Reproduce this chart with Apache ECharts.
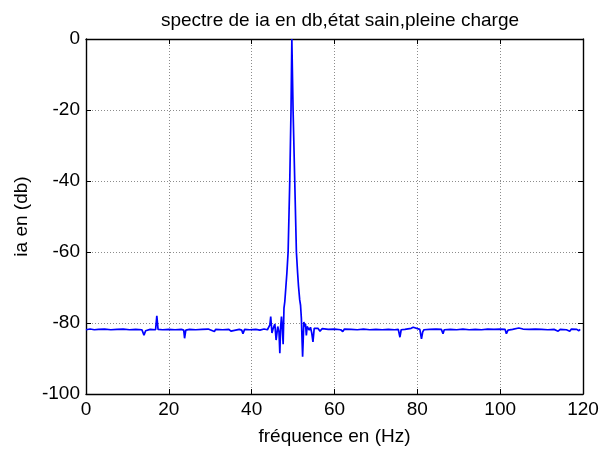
<!DOCTYPE html>
<html>
<head>
<meta charset="utf-8">
<script src="https://cdn.jsdelivr.net/npm/echarts@6/dist/echarts.min.js"></script>
<style>
  html, body { margin: 0; padding: 0; background: #fff; }
  #chart { width: 611px; height: 452px; }
</style>
</head>
<body>
<div id="chart"></div>
<script>
// Spectrum of phase current ia (dB), healthy machine at full load
const freqHz = [
  0, 1, 2, 3, 4.5, 6, 7.5, 9, 10.5, 12, 13.5, 14.0, 14.4, 15.5, 16.8, 17.1, 17.4, 18.5,
  20, 21.5, 23, 23.6, 23.8, 24.1, 25, 26.5, 28, 29.5, 31, 31.3, 33, 34.5, 35, 35.3,
  37, 37.6, 37.9, 38.3, 39.5, 41, 42, 43, 43.8, 44.4, 44.6, 44.9, 45.2, 45.6, 45.9,
  46.3, 46.6, 46.8, 47.0, 47.2, 47.4, 47.6, 47.8, 48.0, 48.25, 48.5, 48.8, 49.0, 49.2,
  49.5, 49.7, 50.0, 50.4, 50.8, 51.1, 51.3, 51.6, 51.8, 52.0, 52.3, 52.6, 52.8, 53.0,
  53.2, 53.4, 53.6, 53.9, 54.2, 54.5, 54.8, 55.1, 55.5, 56, 56.5, 57, 58.5, 60, 61.5,
  62, 62.4, 64, 65.5, 67, 68.5, 70, 71.5, 73, 74.5, 75.4, 75.8, 76.1, 77, 78.5, 79,
  79.4, 80.6, 81.0, 81.3, 81.6, 83, 84.5, 85.8, 86.2, 86.5, 88, 89.5, 91, 92.5, 94,
  95.5, 97, 98.5, 100, 101.2, 101.5, 101.9, 103, 104.5, 105.5, 107, 108.5, 110, 111.5,
  113, 114, 114.5, 116, 116.8, 117.2, 118.5, 119, 119.3
];
const levelDb = [
  -81.9, -81.7, -81.9, -81.8, -81.7, -81.9, -81.8, -81.7, -81.9, -81.8, -81.9, -83.4, -82.2, -81.8, -81.9, -78.0, -81.8, -81.9,
  -81.8, -81.9, -81.8, -82.0, -84.3, -82.0, -81.8, -81.9, -81.8, -81.7, -82.4, -81.8, -81.9, -81.8, -82.3, -81.8,
  -81.8, -82.0, -83.0, -81.8, -81.9, -81.8, -82.0, -81.7, -81.9, -80.5, -78.2, -82.8, -81.5, -80.3, -84.8,
  -81.0, -82.5, -88.5, -81.0, -78.2, -81.5, -86.0, -75.8, -74, -70, -66, -60, -50, -40,
  -20, 0, -20, -40, -60, -66, -69.5, -73.5, -75, -78.7, -89.5, -79.7, -81, -80.2,
  -83.5, -81, -80.5, -82, -81.2, -82.8, -85.3, -81.5, -82, -81.5, -82.3, -81.6, -81.8, -81.7, -81.9,
  -82.4, -81.7, -81.8, -81.9, -81.7, -81.9, -81.8, -81.9, -81.8, -81.9, -81.8, -84.0, -81.9, -81.8, -81.5, -81.2,
  -81.7, -81.8, -84.5, -82.5, -81.9, -81.8, -81.7, -81.8, -83.0, -81.9, -81.8, -81.9, -81.7, -81.9, -81.8,
  -81.9, -81.7, -81.8, -81.7, -81.8, -83.0, -82.0, -81.8, -81.4, -81.7, -81.8, -81.7, -81.8, -81.9,
  -81.8, -82.3, -81.8, -81.9, -82.3, -81.7, -81.8, -82.2, -81.8
];
const xTicks = { min: 0, max: 120, step: 20 };
const yTicks = { min: -100, max: 0, step: 20 };

const points = freqHz.map((f, i) => [f, levelDb[i]]);
const FONT = '"Liberation Sans", Arial, sans-serif';
const FS = 19;

const gridLine = { show: true, lineStyle: { color: '#8c8c8c', type: [1, 2], width: 1 } };
const frameLine = { show: true, onZero: false, lineStyle: { color: '#000', width: 1.4 } };
const innerTick = { show: true, inside: true, length: 5, lineStyle: { color: '#000', width: 1 } };

const chart = echarts.init(document.getElementById('chart'), null, { renderer: 'canvas' });
chart.setOption({
  animation: false,
  backgroundColor: '#fff',
  title: {
    text: 'spectre de ia en db,état sain,pleine charge',
    left: 335, top: 6, textAlign: 'center',
    textStyle: { fontFamily: FONT, fontSize: FS, fontWeight: 'normal', color: '#000' }
  },
  grid: { left: 86, right: 28, top: 39, bottom: 58 },
  xAxis: [
    {
      type: 'value', min: xTicks.min, max: xTicks.max, interval: xTicks.step,
      position: 'bottom',
      name: 'fréquence en (Hz)', nameLocation: 'middle', nameGap: 33,
      nameTextStyle: { fontFamily: FONT, fontSize: FS, color: '#000' },
      axisLine: frameLine, axisTick: innerTick, splitLine: gridLine,
      axisLabel: { fontFamily: FONT, fontSize: FS, color: '#000', margin: 6 }
    },
    {
      type: 'value', min: xTicks.min, max: xTicks.max, interval: xTicks.step,
      position: 'top',
      axisLine: frameLine, axisTick: innerTick, splitLine: { show: false },
      axisLabel: { show: false }
    }
  ],
  yAxis: [
    {
      type: 'value', min: yTicks.min, max: yTicks.max, interval: yTicks.step,
      position: 'left',
      name: 'ia en (db)', nameLocation: 'middle', nameGap: 48,
      nameTextStyle: { fontFamily: FONT, fontSize: FS, color: '#000' },
      axisLine: frameLine, axisTick: innerTick, splitLine: gridLine,
      axisLabel: { fontFamily: FONT, fontSize: FS, color: '#000', margin: 6 }
    },
    {
      type: 'value', min: yTicks.min, max: yTicks.max, interval: yTicks.step,
      position: 'right',
      axisLine: frameLine, axisTick: innerTick, splitLine: { show: false },
      axisLabel: { show: false }
    }
  ],
  series: [{
    type: 'line',
    data: points,
    xAxisIndex: 0, yAxisIndex: 0,
    showSymbol: false,
    lineStyle: { color: '#0000ff', width: 1.7 },
    z: 3
  }]
});
</script>
</body>
</html>
